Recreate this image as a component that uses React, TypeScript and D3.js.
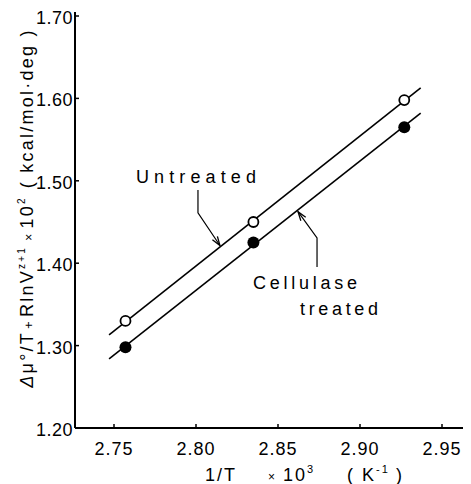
import React from "react"
import * as d3 from "d3"

// data
const xTicks = [2.75, 2.8, 2.85, 2.9, 2.95]
const yTicks = [1.2, 1.3, 1.4, 1.5, 1.6, 1.7]
const invT = [2.757, 2.835, 2.927]
const untreated = [1.33, 1.45, 1.598]
const cellulase = [1.298, 1.425, 1.565]
const fitRange = [2.747, 2.937]

const W = 471
const H = 484
const FONT = "'Liberation Sans', Arial, sans-serif"

// least squares line through the points
const fit = (xs: number[], ys: number[]) => {
  const mx = d3.mean(xs) as number
  const my = d3.mean(ys) as number
  const sxy = d3.sum(xs, (x, i) => (x - mx) * (ys[i] - my))
  const sxx = d3.sum(xs, (x) => (x - mx) ** 2)
  const b = sxy / sxx
  return (x: number) => my + b * (x - mx)
}

export default function App() {
  const x = d3.scaleLinear().domain([2.75, 2.95]).range([114, 442])
  const y = d3.scaleLinear().domain([1.2, 1.7]).range([428, 16])

  const x0 = x.invert(75)
  const x1 = x.invert(463)
  const yTop = 1.705

  const line = d3
    .line<number>()
    .x((d) => x(d))

  const fU = fit(invT, untreated)
  const fC = fit(invT, cellulase)
  const lineU = line.y((d) => y(fU(d)))(fitRange)
  const lineC = line.y((d) => y(fC(d)))(fitRange)

  const arrowU: [number, number][] = [[2.8012, 1.4888], [2.8012, 1.461], [2.8146, 1.4215]]
  const arrowC: [number, number][] = [[2.8738, 1.3954], [2.8738, 1.4306], [2.8622, 1.4625]]
  const poly = d3.line<[number, number]>().x((d) => x(d[0])).y((d) => y(d[1]))

  return (
    <svg width={W} height={H} style={{ position: "absolute", left: 0, top: 0, background: "#fff" }}>
      <defs>
        <marker id="arr" viewBox="-10 -5 12 10" markerWidth={12} markerHeight={10} refX={0} refY={0} orient="auto" markerUnits="userSpaceOnUse">
          <path d="M-9,-3 L0,0 L-9,3" fill="none" stroke="#000" strokeWidth={1.3} />
        </marker>
      </defs>

      {/* axes */}
      <line x1={x(x0)} x2={x(x1)} y1={y(1.2)} y2={y(1.2)} stroke="#000" strokeWidth={2} />
      <line x1={x(x0)} x2={x(x0)} y1={y(1.2)} y2={y(yTop)} stroke="#000" strokeWidth={2} />

      {xTicks.map((t) => (
        <g key={"x" + t}>
          <line x1={x(t)} x2={x(t)} y1={y(1.2)} y2={y(1.2) - 4} stroke="#000" strokeWidth={1.5} />
          <text x={x(t)} y={455} textAnchor="middle" fontFamily={FONT} fontSize={18} letterSpacing={1}>
            {t.toFixed(2)}
          </text>
        </g>
      ))}
      {yTicks.map((t) => (
        <g key={"y" + t}>
          <line x1={x(x0)} x2={x(x0) + 4} y1={y(t)} y2={y(t)} stroke="#000" strokeWidth={1.5} />
          <text x={73} y={y(t) + 8} textAnchor="end" fontFamily={FONT} fontSize={18} letterSpacing={0.5}>
            {t.toFixed(2)}
          </text>
        </g>
      ))}

      {/* axis titles */}
      <text y={481} fontFamily={FONT} fontSize={18} letterSpacing={2}>
        <tspan x={205}>1/T</tspan>
        <tspan x={268} fontSize={12}>×</tspan>
        <tspan x={283}>10</tspan>
        <tspan dy={-8} fontSize={11}>3</tspan>
        <tspan x={347} y={481}>(</tspan>
        <tspan x={362}>K</tspan>
        <tspan dy={-8} fontSize={11}>-1</tspan>
        <tspan x={396} y={481}>)</tspan>
      </text>
      <text
        transform="translate(33,208) rotate(-90)"
        textAnchor="middle"
        fontFamily={FONT}
        fontSize={18}
        letterSpacing={2.25}
      >
        <tspan fontStyle="italic">Δ</tspan>
        <tspan>μ°/T</tspan>
        <tspan fontSize={13} dx={2}>+</tspan>
        <tspan dx={2}>RlnV</tspan>
        <tspan dy={-8} fontSize={10}>z+1</tspan>
        <tspan dy={8} fontSize={12} dx={5}>×</tspan>
        <tspan dx={3}>10</tspan>
        <tspan dy={-8} fontSize={10}>2</tspan>
        <tspan dy={8} dx={8}>( kcal/mol·deg )</tspan>
      </text>

      {/* fitted lines */}
      <path d={lineU ?? ""} fill="none" stroke="#000" strokeWidth={1.6} />
      <path d={lineC ?? ""} fill="none" stroke="#000" strokeWidth={1.6} />

      {/* points */}
      {invT.map((t, i) => (
        <circle key={"u" + i} cx={x(t)} cy={y(untreated[i])} r={5} fill="#fff" stroke="#000" strokeWidth={1.8} />
      ))}
      {invT.map((t, i) => (
        <circle key={"c" + i} cx={x(t)} cy={y(cellulase[i])} r={6} fill="#000" />
      ))}

      {/* annotations */}
      <path d={poly(arrowU) ?? ""} fill="none" stroke="#000" strokeWidth={1.2} markerEnd="url(#arr)" />
      <path d={poly(arrowC) ?? ""} fill="none" stroke="#000" strokeWidth={1.2} markerEnd="url(#arr)" />
      <text x={x(2.7634)} y={y(1.4973)} fontFamily={FONT} fontSize={18} textLength={120} lengthAdjust="spacing">
        Untreated
      </text>
      <text x={x(2.8348)} y={y(1.3687)} fontFamily={FONT} fontSize={18} textLength={104} lengthAdjust="spacing">
        Cellulase
      </text>
      <text x={x(2.8634)} y={y(1.3371)} fontFamily={FONT} fontSize={18} textLength={78} lengthAdjust="spacing">
        treated
      </text>
    </svg>
  )
}
